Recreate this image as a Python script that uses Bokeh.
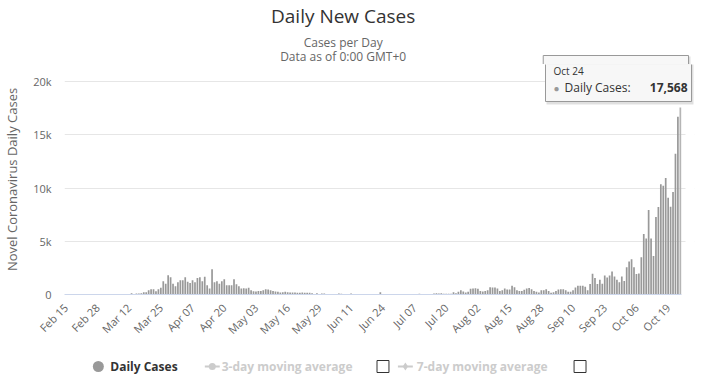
import math
import pandas as pd
from bokeh.plotting import figure
from bokeh.layouts import column
from bokeh.models import (ColumnDataSource, FixedTicker, DatetimeTickFormatter,
                          NumeralTickFormatter, Label, Range1d, BoxAnnotation)
from bokeh.embed import file_html
from bokeh.resources import INLINE

# ---------------- data (daily new cases, 2020) ----------------
feb = [0, 0, 0, 0, 0, 0, 0, 0, 0, 0, 0, 0, 0, 0, 0]
mar = [0, 0, 0, 0, 0, 0, 0, 0, 0, 0, 0, 0, 125, 30, 94, 94, 125, 220, 220, 410,
       500, 500, 310, 500, 625, 1250, 1000, 1810, 1625, 1000, 780]
apr = [1160, 1340, 1340, 1625, 1190, 1090, 1340, 1160, 1560, 1625, 1250, 1660, 875,
       560, 2380, 1160, 1250, 1000, 1250, 1440, 875, 875, 875, 1440, 970, 780, 560,
       590, 560, 625]
may = [400, 310, 280, 340, 340, 400, 500, 470, 400, 340, 280, 250, 190, 220, 250,
       220, 190, 190, 190, 160, 160, 190, 160, 160, 160, 125, 30, 125, 0, 90, 90]
jun = [0, 0, 0, 0, 0, 90, 60, 0, 0, 0, 90, 0, 0, 0, 0, 0, 0, 0, 0, 0, 0, 0, 220,
       0, 0, 0, 0, 0, 0, 0]
jul = [0, 0, 0, 0, 0, 0, 0, 0, 60, 0, 0, 0, 0, 0, 90, 120, 90, 120, 60, 60, 60, 60,
       220, 125, 250, 410, 280, 190, 250, 530, 560]
aug = [590, 530, 340, 280, 340, 400, 690, 660, 660, 560, 340, 400, 560, 470, 470,
       810, 690, 400, 340, 340, 440, 560, 620, 500, 340, 250, 190, 410, 410, 500, 340]
sep = [160, 220, 340, 470, 500, 500, 410, 250, 250, 410, 660, 820, 820, 820, 730,
       410, 980, 1960, 1550, 980, 1390, 1020, 1790, 1600, 1790, 2170, 1700, 1380,
       1160, 1700]
oct_ = [1260, 2550, 3110, 3300, 2550, 1920, 1980, 3490, 5690, 5250, 7930, 5250, 3620,
        7270, 8210, 10350, 10220, 10940, 9090, 8240, 9620, 13210, 16700, 17568]

x_tick_labels = ["Feb 15", "Feb 28", "Mar 12", "Mar 25", "Apr 07", "Apr 20", "May 03",
                 "May 16", "May 29", "Jun 11", "Jun 24", "Jul 07", "Jul 20", "Aug 02",
                 "Aug 15", "Aug 28", "Sep 10", "Sep 23", "Oct 06", "Oct 19"]
y_ticks = [0, 5000, 10000, 15000, 20000]

cases = feb + mar + apr + may + jun + jul + aug + sep + oct_
dates = pd.date_range("2020-02-15", periods=len(cases), freq="D")
bar_colors = ["#999999"] * (len(cases) - 1) + ["#b5b5b5"]
src = ColumnDataSource(dict(date=dates, cases=cases, color=bar_colors))

tick_ms = [pd.Timestamp("2020 " + t).value // 10**6 for t in x_tick_labels]

# ---------------- page geometry (pixels) ----------------
W, PAGE_H = 702, 386
FL = 61                  # frame left (page x)
PLOT_R = 681             # right end of the bar area (page x)
FR = 8                   # right border -> frame right at 694 (room for tooltip)
SEAM = 64                # page y where title strip ends / main frame starts
AXIS_Y = 294             # page y of value 0
GRID_TOP = 81            # page y of the 20k line
MAIN_H = 290             # main figure: page 64..354
BOT_H = PAGE_H - SEAM - MAIN_H
FONT = "Open Sans"
FX0, FY0 = FL, AXIS_Y    # page coords of main frame left / bottom

half_day = pd.Timedelta(hours=12)
x_start = dates[0] - half_day
x_plot_end = dates[-1] + half_day
px_per_day = (PLOT_R - FL) / len(cases)
x_end = x_plot_end + pd.Timedelta(days=(W - FR - PLOT_R) / px_per_day)
y_end = y_ticks[-1] * (AXIS_Y - SEAM) / (AXIS_Y - GRID_TOP)

# tooltip box in page pixels
TT_L, TT_R, TT_T, TT_B = 542, 688, 55, 101


def strip(height, y_top):
    f = figure(width=W, height=height, output_backend="svg", toolbar_location=None,
               tools="", x_range=Range1d(FL, W - FR),
               y_range=Range1d(y_top + height, y_top),
               x_axis_location=None, y_axis_location=None, title=None,
               min_border_left=FL, min_border_right=FR, min_border_top=0,
               min_border_bottom=0)
    f.outline_line_color = None
    f.background_fill_color = "white"
    f.border_fill_color = "white"
    f.grid.visible = False
    return f


def stxt(f, X, Y, text, size="12px", color="#333333", align="left", style="normal"):
    f.add_layout(Label(x=X, y=Y, text=text, text_font=FONT, text_font_size=size,
                       text_color=color, text_align=align, text_baseline="middle",
                       text_font_style=style))


# ---------------- top strip: titles + top of tooltip ----------------
top = strip(SEAM, 0)
stxt(top, 341, 15, "Daily New Cases", size="19px", align="center")
stxt(top, 341, 42, "Cases per Day", color="#666666", align="center")
stxt(top, 341, 55.5, "Data as of 0:00 GMT+0", color="#666666", align="center")
top.quad(left=TT_L + 1, right=TT_R + 2, top=TT_T + 1, bottom=TT_B + 3,
         fill_color="black", fill_alpha=0.12, line_color=None)
top.quad(left=TT_L, right=TT_R, top=TT_T, bottom=TT_B,
         fill_color="#f7f7f7", fill_alpha=1.0, line_color="#999999", line_width=1)

# ---------------- main plot ----------------
p = figure(width=W, height=MAIN_H, x_axis_type="datetime", output_backend="svg",
           toolbar_location=None, tools="", title=None,
           x_range=Range1d(x_start, x_end), y_range=Range1d(0, y_end),
           min_border_left=FL, min_border_right=FR, min_border_top=0,
           min_border_bottom=SEAM + MAIN_H - AXIS_Y)
p.outline_line_color = None
p.background_fill_color = "white"
p.border_fill_color = "white"

p.vbar(x="date", top="cases", width=0.7 * 86400000, source=src,
       fill_color="color", line_color=None)

p.xgrid.grid_line_color = None
p.ygrid.grid_line_color = "#e6e6e6"
p.ygrid.ticker = FixedTicker(ticks=y_ticks)

p.yaxis.ticker = FixedTicker(ticks=y_ticks)
p.yaxis.formatter = NumeralTickFormatter(format="0a")
p.yaxis.axis_line_color = None
p.yaxis.major_tick_line_color = None
p.yaxis.minor_tick_line_color = None
p.yaxis.major_tick_out = 0
p.yaxis.minor_tick_out = 0
p.yaxis.major_label_text_font = FONT
p.yaxis.major_label_text_font_size = "11px"
p.yaxis.major_label_text_color = "#666666"
p.yaxis.major_label_standoff = 13
p.yaxis.axis_label = "Novel Coronavirus Daily Cases"
p.yaxis.axis_label_text_font = FONT
p.yaxis.axis_label_text_font_size = "13px"
p.yaxis.axis_label_text_font_style = "normal"
p.yaxis.axis_label_text_color = "#666666"
p.yaxis.axis_label_standoff = 9

fmt = "%b %d"
p.xaxis.ticker = FixedTicker(ticks=tick_ms)
p.xaxis.bounds = (x_start, x_plot_end)
p.xaxis.formatter = DatetimeTickFormatter(milliseconds=fmt, seconds=fmt, minsec=fmt,
                                          minutes=fmt, hourmin=fmt, hours=fmt, days=fmt,
                                          months=fmt, years=fmt)
p.xaxis.axis_line_color = "#ccd6eb"
p.xaxis.major_tick_line_color = None
p.xaxis.minor_tick_line_color = None
p.xaxis.major_label_orientation = math.pi / 4
p.xaxis.major_label_text_font = FONT
p.xaxis.major_label_text_font_size = "11px"
p.xaxis.major_label_text_color = "#666666"
p.xaxis.major_label_standoff = 5


def ptxt(X, Y, text, size="12px", color="#333333", align="left", style="normal"):
    p.add_layout(Label(x=X - FX0, y=FY0 - Y, x_units="screen", y_units="screen",
                       text=text, text_font=FONT, text_font_size=size,
                       text_color=color, text_align=align, text_baseline="middle",
                       text_font_style=style))


def pbox(l, r, t, b, **kw):
    p.add_layout(BoxAnnotation(left=l - FX0, right=r - FX0, top=FY0 - t, bottom=FY0 - b,
                               left_units="screen", right_units="screen",
                               top_units="screen", bottom_units="screen", **kw))


# blank out grid lines to the right of the bar area
pbox(PLOT_R + 1, W - FR + 2, SEAM - 2, AXIS_Y + 2, fill_color="white", fill_alpha=1.0,
     line_color=None)
# lower part of the tooltip
pbox(TT_L + 1, TT_R + 2, TT_T + 1, TT_B + 3, fill_color="black", fill_alpha=0.12,
     line_color=None)
pbox(TT_L, TT_R, TT_T, TT_B, fill_color="#f7f7f7", fill_alpha=1.0,
     line_color="#999999", line_width=1, line_alpha=1.0)
ptxt(550, 70.5, "Oct 24", size="10px")
ptxt(550, 87, "\u25CF", size="10px", color="#999999")
ptxt(561, 87, "Daily Cases: ", size="12px")
ptxt(684, 87, "17,568", size="12px", align="right", style="bold")

# ---------------- bottom strip: legend ----------------
bot = strip(BOT_H, SEAM + MAIN_H)
LY = 366
bot.scatter(x=[95], y=[LY], size=11, marker="circle", fill_color="#999999",
            line_color=None)
stxt(bot, 107, LY, "Daily Cases", style="bold")
bot.line(x=[202, 217], y=[LY, LY], line_color="#cccccc", line_width=2)
bot.scatter(x=[209.5], y=[LY], size=7, marker="circle", fill_color="#cccccc",
            line_color=None)
stxt(bot, 219, LY, "3-day moving average", color="#cccccc", style="bold")
bot.quad(left=375, right=387, top=LY - 6, bottom=LY + 6, fill_color="white",
         line_color="#333333", line_width=1)
bot.line(x=[396, 411], y=[LY, LY], line_color="#cccccc", line_width=2)
bot.scatter(x=[403.5], y=[LY], size=8, marker="diamond", fill_color="#cccccc",
            line_color=None)
stxt(bot, 415, LY, "7-day moving average", color="#cccccc", style="bold")
bot.quad(left=573, right=585, top=LY - 6, bottom=LY + 6, fill_color="white",
         line_color="#333333", line_width=1)

layout = column(top, p, bot, spacing=0)
open("out.html", "w").write(file_html(layout, INLINE))
